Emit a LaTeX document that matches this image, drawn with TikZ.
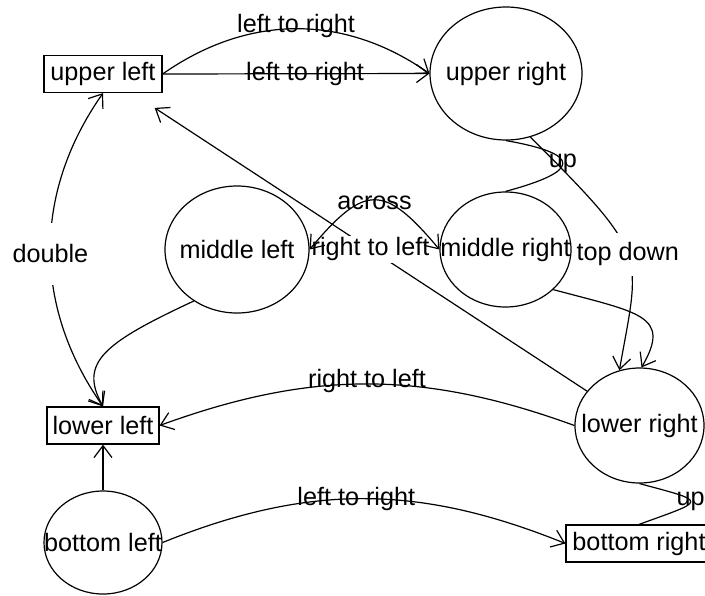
\documentclass[tikz,border=0pt]{standalone}
\usepackage{fontspec}
\setmainfont{Liberation Sans}
\usetikzlibrary{shapes.geometric,arrows.meta}

\begin{document}
\begin{tikzpicture}[x=0.5pt,y=-0.5pt,
    every node/.style={font=\fontsize{12.6pt}{15pt}\selectfont},
    line width=0.6pt,
    >={Straight Barb[length=6pt,width=9pt]},
    box/.style={draw,rectangle,inner sep=0pt,minimum height=18.5pt},
    oval/.style={draw,ellipse,inner sep=0pt},
    gaplabel/.style={fill=white,inner xsep=0pt,inner ysep=1pt}]
  \useasboundingbox (0,0) rectangle (705,595);

  % nodes
  \node[box,minimum width=59pt]  (ul) at (103,74)    {upper left};
  \node[oval,minimum width=76pt,minimum height=66.5pt]   (ur) at (506,73.5)  {\makebox[0pt]{upper right}};
  \node[oval,minimum width=72pt,minimum height=63.5pt]   (ml) at (237,249.5) {\makebox[0pt]{middle left}};
  \node[oval,minimum width=65.5pt,minimum height=57.5pt] (mr) at (505.5,249.5) {\makebox[0pt]{middle right}};
  \node[box,minimum width=56pt]  (ll) at (103,425.5) {lower left};
  \node[oval,minimum width=64.5pt,minimum height=57.5pt] (lr) at (639.5,425.5) {\makebox[0pt]{lower right}};
  \node[oval,minimum width=59pt,minimum height=51.5pt]   (bl) at (103,542.5) {\makebox[0pt]{bottom left}};
  \node[box,minimum width=73pt]  (br) at (639,543.5) {bottom right};

  % edges
  \draw[->] (ul.east) to[out=35,in=145] node[pos=.5,yshift=1.5pt] (ltrA) {left to right} (ur.west);
  \draw[->] (ul.east) -- node[pos=.534] (ltrB) {left to right} (ur.west);
  \draw (ur.south) .. controls +(-10:39pt) and +(15:39pt) .. (mr.north) node[pos=.5] (upA) {up};
  \draw[->] (ur.-69) .. controls +(-45:85pt) and +(80:60pt) .. (lr.110) node[pos=.5,gaplabel,inner ysep=5pt] (topdown) {top down};
  \draw[->] (mr.-40) .. controls +(-15:45pt) and +(60:30pt) .. (lr.88);
  \draw[->,shorten >=13.5pt] (lr) -- node[pos=.476,gaplabel] (rtlA) {right to left} (ul);
  \draw[<->] (ml.east) to[out=50,in=130,looseness=1.7] node[pos=.5,yshift=-1.5pt] (across) {across} (mr.west);
  \draw[->] (lr.west) to[out=160,in=20] node[pos=.5,yshift=1.5pt] (rtlB) {right to left} (ll.east);
  \draw[->] (ml.-130) .. controls +(-155:50pt) and +(119:25pt) .. (ll.north);
  \draw[<->] (ul.south) to[out=-125,in=125] node[pos=.5,yshift=-2pt,gaplabel,inner ysep=11pt] (double) {double} (ll.north);
  \draw[->] (bl) -- (ll);
  \draw[->] (bl.east) to[out=22,in=158] node[pos=.48] (ltrC) {left to right} (br.west);
  \draw (lr.south) .. controls +(-15:36pt) and +(20:36pt) .. (br.north) node[pos=.5] (upB) {up};
\end{tikzpicture}
\end{document}
